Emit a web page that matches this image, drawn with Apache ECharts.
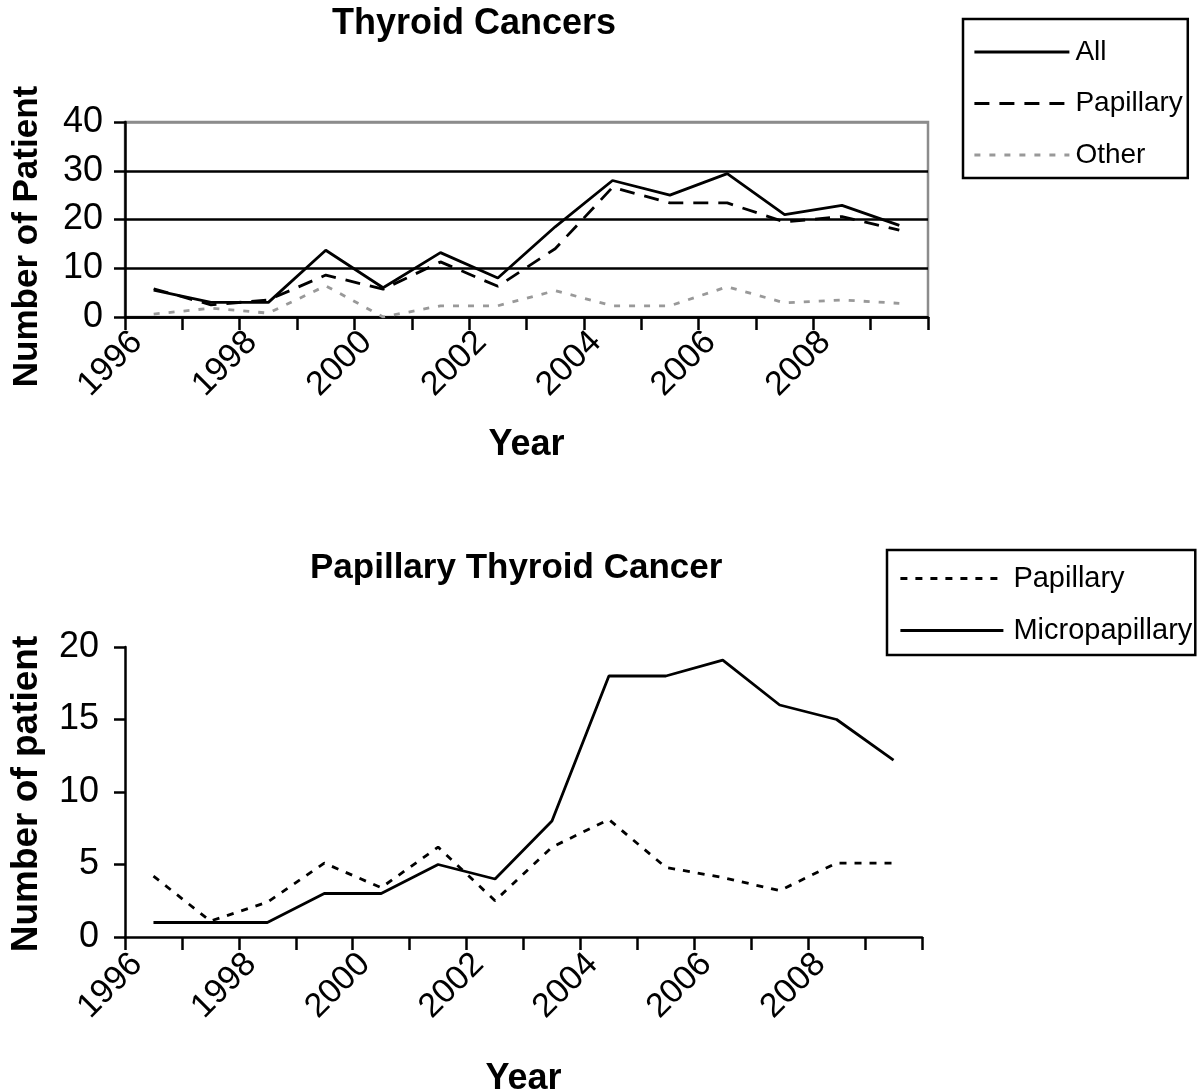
<!DOCTYPE html>
<html>
<head>
<meta charset="utf-8">
<script src="https://cdn.jsdelivr.net/npm/echarts@6/dist/echarts.min.js"></script>
<style>
  html, body { margin: 0; padding: 0; background: #fff; }
  #chart { width: 1200px; height: 1091px; }
</style>
</head>
<body>
<div id="chart"></div>
<script>
// ---- Data ----
const years = [1996, 1997, 1998, 1999, 2000, 2001, 2002, 2003, 2004, 2005, 2006, 2007, 2008, 2009];

// Top panel: Thyroid Cancers
const allCancers   = [5.5, 3.0, 3.0, 13.7, 6.0, 13.2, 8.0, 18.5, 28.0, 25.0, 29.4, 21.0, 22.9, 18.8];
const papillaryTop = [5.8, 2.5, 3.5, 8.6, 5.7, 11.3, 6.3, 14.0, 26.6, 23.4, 23.4, 19.5, 20.6, 17.8];
const otherCancers = [0.6, 1.8, 0.8, 6.4, 0.0, 2.3, 2.3, 5.4, 2.3, 2.3, 6.2, 2.9, 3.5, 2.8];

// Bottom panel: Papillary Thyroid Cancer
const papillaryBottom = [4.2, 1.1, 2.4, 5.1, 3.4, 6.2, 2.5, 6.2, 8.1, 4.8, 4.1, 3.2, 5.1, 5.1];
const micropapillary  = [1, 1, 1, 3, 3, 5, 4, 8, 18, 18, 19.1, 16, 15, 12.2];

const topTicks = [0, 10, 20, 30, 40];
const bottomTicks = [0, 5, 10, 15, 20];
const xLabelYears = [1996, 1998, 2000, 2002, 2004, 2006, 2008];

// points sit in the middle of each year
function pts(vals) { return years.map((y, i) => [y + 0.5, vals[i]]); }

const FONT = "'Liberation Sans', Arial, Helvetica, sans-serif";

function xAxisCfg(gridIndex) {
  return {
    type: 'value', gridIndex: gridIndex, min: 1996, max: 2010, interval: 1,
    name: 'Year', nameLocation: 'middle', nameGap: gridIndex === 0 ? 110 : 124,
    nameTextStyle: { fontFamily: FONT, fontWeight: 'bold', fontSize: 36, color: '#000' },
    axisLine: { show: true, onZero: false, lineStyle: { color: '#000', width: 2.5 } },
    axisTick: { show: true, length: 13, lineStyle: { color: '#000', width: 2.5 } },
    axisLabel: {
      rotate: 45, margin: gridIndex === 0 ? 8 : 10, align: 'right', verticalAlign: 'top',
      fontFamily: FONT, fontSize: 34, color: '#000',
      formatter: v => xLabelYears.indexOf(v) >= 0 ? String(v) : ''
    },
    splitLine: { show: false }
  };
}

const legendCommon = {
  orient: 'vertical',
  borderColor: '#000', borderWidth: 2.5,
  itemHeight: 30,
  itemStyle: { color: 'transparent', borderWidth: 0, opacity: 0 },
  lineStyle: { width: 2.8 },
  selectedMode: false
};

const option = {
  animation: false,
  backgroundColor: '#fff',
  title: [
    { text: 'Thyroid Cancers', left: 332, top: 6, padding: 0,
      textStyle: { fontFamily: FONT, fontWeight: 'bold', fontSize: 36, color: '#000' } },
    { text: 'Papillary Thyroid Cancer', left: 310, top: 551, padding: 0,
      textStyle: { fontFamily: FONT, fontWeight: 'bold', fontSize: 35, color: '#000' } }
  ],
  legend: [
    Object.assign({}, legendCommon, {
      data: ['All', 'Papillary', 'Other'],
      left: 963, top: 19,
      padding: [19, 5, 9, 10],
      itemWidth: 95, itemGap: 23.5,
      textStyle: { fontFamily: FONT, fontSize: 28, color: '#000', padding: [0, 0, 0, 1] }
    }),
    Object.assign({}, legendCommon, {
      data: ['Papillary (PTC)', 'Micropapillary'],
      left: 887, top: 550,
      padding: [14, 3, 10, 12],
      itemWidth: 103, itemGap: 23,
      formatter: n => n === 'Papillary (PTC)' ? 'Papillary' : n,
      textStyle: { fontFamily: FONT, fontSize: 29, color: '#000', padding: [0, 0, 0, 5] }
    })
  ],
  grid: [
    { left: 125, top: 122, width: 803, height: 195, show: true, outerBoundsMode: 'none', containLabel: false,
      borderColor: '#8c8c8c', borderWidth: 2.5, backgroundColor: 'transparent' },
    { left: 125, top: 647, width: 797, height: 290, outerBoundsMode: 'none', containLabel: false }
  ],
  xAxis: [xAxisCfg(0), xAxisCfg(1)],
  yAxis: [
    {
      type: 'value', gridIndex: 0, min: topTicks[0], max: topTicks[topTicks.length - 1], interval: 10,
      name: 'Number of Patient', nameLocation: 'middle', nameGap: 80,
      nameTextStyle: { fontFamily: FONT, fontWeight: 'bold', fontSize: 35, color: '#000', padding: [0, 34, 0, 0] },
      axisLine: { show: true, lineStyle: { color: '#000', width: 2.5 } },
      axisTick: { show: true, length: 11, lineStyle: { color: '#000', width: 2.5 } },
      axisLabel: { margin: 22, fontFamily: FONT, fontSize: 36, color: '#000' },
      splitLine: { show: true, lineStyle: { color: ['#000', '#000', '#000', '#000', '#8c8c8c'], width: 2.5 } }
    },
    {
      type: 'value', gridIndex: 1, min: bottomTicks[0], max: bottomTicks[bottomTicks.length - 1], interval: 5,
      name: 'Number of patient', nameLocation: 'middle', nameGap: 80,
      nameTextStyle: { fontFamily: FONT, fontWeight: 'bold', fontSize: 37, color: '#000', padding: [0, 4, 0, 0] },
      axisLine: { show: true, lineStyle: { color: '#000', width: 2.5 } },
      axisTick: { show: true, length: 11, lineStyle: { color: '#000', width: 2.5 } },
      axisLabel: { margin: 26, fontFamily: FONT, fontSize: 36, color: '#000' },
      splitLine: { show: false }
    }
  ],
  series: [
    { name: 'All', type: 'line', xAxisIndex: 0, yAxisIndex: 0, data: pts(allCancers),
      symbol: 'none', color: '#000', lineStyle: { color: '#000', width: 2.8, type: 'solid' }, z: 5 },
    { name: 'Papillary', type: 'line', xAxisIndex: 0, yAxisIndex: 0, data: pts(papillaryTop),
      symbol: 'none', color: '#000', lineStyle: { color: '#000', width: 2.8, type: [15, 10] }, z: 4 },
    { name: 'Other', type: 'line', xAxisIndex: 0, yAxisIndex: 0, data: pts(otherCancers),
      symbol: 'none', color: '#999', lineStyle: { color: '#999', width: 2.8, type: [6, 9] }, z: 3 },
    { name: 'Papillary (PTC)', type: 'line', xAxisIndex: 1, yAxisIndex: 1, data: pts(papillaryBottom),
      symbol: 'none', color: '#000', lineStyle: { color: '#000', width: 2.8, type: [7, 8] }, z: 4 },
    { name: 'Micropapillary', type: 'line', xAxisIndex: 1, yAxisIndex: 1, data: pts(micropapillary),
      symbol: 'none', color: '#000', lineStyle: { color: '#000', width: 2.8, type: 'solid' }, z: 5 }
  ]
};

const chart = echarts.init(document.getElementById('chart'), null, { renderer: 'canvas' });
chart.setOption(option);
</script>
</body>
</html>
